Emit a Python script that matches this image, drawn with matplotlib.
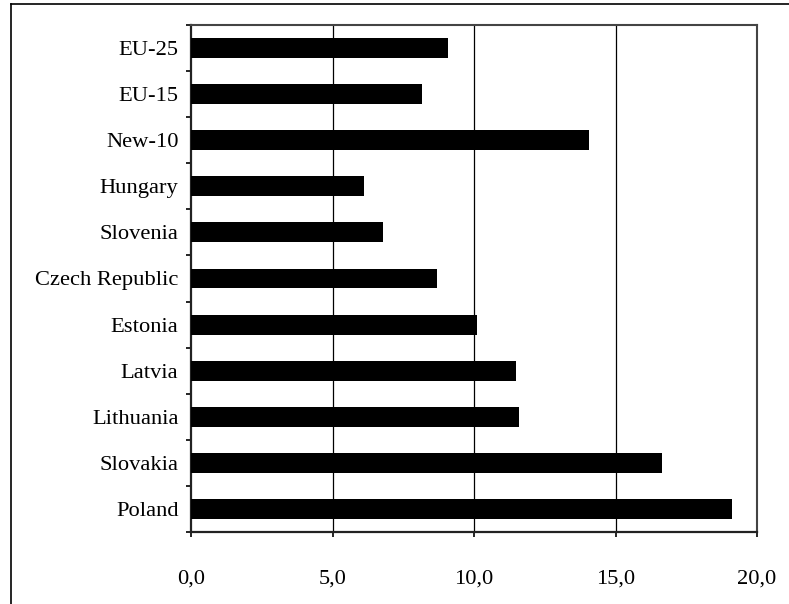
import matplotlib.pyplot as plt
from matplotlib.lines import Line2D
from matplotlib.ticker import FuncFormatter, FixedLocator, NullFormatter

countries = ["EU-25", "EU-15", "New-10", "Hungary", "Slovenia", "Czech Republic",
             "Estonia", "Latvia", "Lithuania", "Slovakia", "Poland"]
values = [9.07, 8.15, 14.06, 6.11, 6.78, 8.69, 10.1, 11.5, 11.6, 16.65, 19.1]
xticks = [0, 5, 10, 15, 20]

plt.rcParams['font.family'] = ['Liberation Serif', 'DejaVu Serif']

fig = plt.figure(figsize=(7.89, 6.04), dpi=100)
ax = fig.add_axes([191 / 789, 1 - 532 / 604, (757 - 191) / 789, (532 - 25) / 604])

pos = list(range(len(countries)))
ax.barh(pos, values, height=0.43, color='black', zorder=3)
ax.set_ylim(len(countries) - 0.5, -0.5)
ax.set_xlim(0, 20)

ax.set_yticks(pos)
ax.set_yticklabels(countries, fontsize=16.2)
ax.tick_params(axis='y', which='major', length=0, pad=9)
ax.yaxis.set_minor_locator(FixedLocator([p - 0.5 for p in pos] + [len(pos) - 0.5]))
ax.yaxis.set_minor_formatter(NullFormatter())
ax.tick_params(axis='y', which='minor', length=3.8, width=1.2, direction='out')

ax.set_xticks(xticks)
ax.xaxis.set_major_formatter(FuncFormatter(lambda v, p: f"{v:.1f}".replace('.', ',')))
ax.tick_params(axis='x', length=3.8, width=1.2, direction='out', labelsize=16.2, pad=23)

for v in xticks[1:-1]:
    ax.axvline(v, color='black', lw=0.9, zorder=1)

for side in ['top', 'right']:
    ax.spines[side].set_color('#444444')
    ax.spines[side].set_linewidth(1.5)
for side in ['left', 'bottom']:
    ax.spines[side].set_color('#222222')
    ax.spines[side].set_linewidth(1.6)

# outer chart frame (only left and top edges visible)
fx = 11 / 789
fy = 1 - 4 / 604
fig.add_artist(Line2D([fx, fx], [0, fy], color='black', lw=1.2, transform=fig.transFigure))
fig.add_artist(Line2D([fx, 1], [fy, fy], color='black', lw=1.2, transform=fig.transFigure))

fig.savefig('out.png', dpi=100)
